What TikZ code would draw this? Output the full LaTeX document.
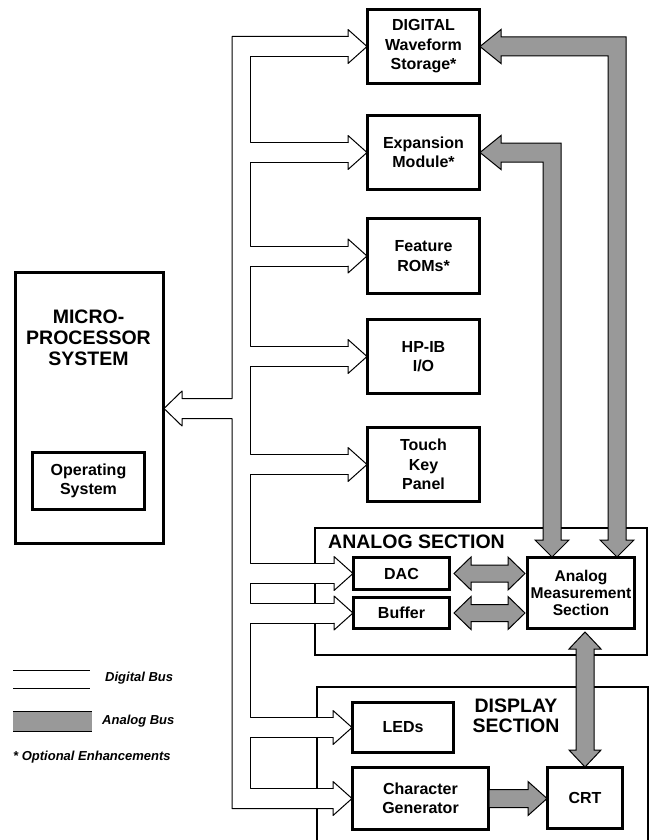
\documentclass[tikz,border=0pt]{standalone}
\usepackage{fontspec}
\setmainfont{Liberation Sans}
\usetikzlibrary{calc}
\begin{document}
\begin{tikzpicture}[x=1pt,y=-1pt,
 box/.style={draw,line width=2pt,inner sep=0pt,anchor=north west,align=center,font=\bfseries\fontsize{16}{19.5}\selectfont},
 frame/.style={line width=1.5pt},
 dbus/.style={line width=1pt,line join=round,line cap=round},
 abus/.style={fill=black!40,draw=black,line width=1pt,line join=miter},
 title/.style={font=\bfseries\fontsize{19.5}{20.5}\selectfont,inner sep=0pt,align=center},
 legend/.style={font=\bfseries\itshape\fontsize{13}{14}\selectfont,inner sep=0pt,anchor=west}]
\useasboundingbox (0,0) rectangle (653,840);
% ---------- macros ----------
\newcommand\dfill[2]{\fill[white] let \p1=(#1.west) in (#2pt,\y1+10pt) -- (\x1-19pt,\y1+10pt) -- (\x1-19pt,\y1+17pt) -- (\p1) -- (\x1-19pt,\y1-17pt) -- (\x1-19pt,\y1-10pt) -- (#2pt,\y1-10pt) -- cycle;}
\newcommand\dhead[1]{\draw[dbus] let \p1=(#1.west) in (\x1-19pt,\y1+10pt) -- (\x1-19pt,\y1+17pt) -- (\p1) -- (\x1-19pt,\y1-17pt) -- (\x1-19pt,\y1-10pt);}
\newcommand\inseg[2]{\draw[dbus] let \p1=(#1.west), \p2=(#2.west) in (\x1-19pt,\y1-10pt) -- (250pt,\y1-10pt) -- (250pt,\y2+10pt) -- (\x2-19pt,\y2+10pt);}
\newcommand\elbow[2]{\filldraw[abus] let \p1=(#1), \p2=(#2) in (\p1) -- (\x1+21pt,\y1+17pt) -- (\x1+21pt,\y1+9.5pt) -- (\x2+9pt,\y1+9.5pt) -- (\x2+9pt,\y2+17pt) -- (\x2+17pt,\y2+17pt) -- (\p2) -- (\x2-17pt,\y2+17pt) -- (\x2-9pt,\y2+17pt) -- (\x2-9pt,\y1-9.5pt) -- (\x1+21pt,\y1-9.5pt) -- (\x1+21pt,\y1-17pt) -- cycle;}
\newcommand\hdbl[2]{\filldraw[abus] let \p1=(#1), \p2=(#2) in (\p1) -- (\x1+17pt,\y1+16.5pt) -- (\x1+17pt,\y1+8.5pt) -- (\x2-17pt,\y1+8.5pt) -- (\x2-17pt,\y1+16.5pt) -- (\x2,\y1) -- (\x2-17pt,\y1-16.5pt) -- (\x2-17pt,\y1-8.5pt) -- (\x1+17pt,\y1-8.5pt) -- (\x1+17pt,\y1-16.5pt) -- cycle;}
\newcommand\vdbl[2]{\filldraw[abus] let \p1=(#1), \p2=(#2) in (\p1) -- (\x1+16pt,\y1-17pt) -- (\x1+9pt,\y1-17pt) -- (\x1+9pt,\y2+17pt) -- (\x1+16pt,\y2+17pt) -- (\x1,\y2) -- (\x1-16pt,\y2+17pt) -- (\x1-9pt,\y2+17pt) -- (\x1-9pt,\y1-17pt) -- (\x1-16pt,\y1-17pt) -- cycle;}
\newcommand\hsgl[2]{\filldraw[abus] let \p1=(#1), \p2=(#2) in (\x1,\y1+9pt) -- (\x2-19pt,\y1+9pt) -- (\x2-19pt,\y1+17pt) -- (\x2,\y1) -- (\x2-19pt,\y1-17pt) -- (\x2-19pt,\y1-9pt) -- (\x1,\y1-9pt) -- cycle;}
% ---------- section frames ----------
\draw[frame] (315,528) rectangle (647,655);
\draw[frame] (317,842) -- (317,687) -- (648,687) -- (648,842);
\node[title,anchor=west] (atitle) at (328,542) {ANALOG SECTION};
\node[title] (dtitle) at (516,716) {DISPLAY\\SECTION};
% ---------- boxes ----------
\path
 node[box,minimum width=111pt,minimum height=73pt] (dws) at (367,9) {DIGITAL\\Waveform\\Storage*}
 node[box,minimum width=111pt,minimum height=73pt] (exp) at (367,115) {Expansion\\Module*}
 node[box,minimum width=111pt,minimum height=74pt] (rom) at (367,218) {Feature\\ROMs*}
 node[box,minimum width=111pt,minimum height=73pt] (hpib) at (367,319) {HP-IB\\I/O}
 node[box,minimum width=111pt,minimum height=73pt] (touch) at (367,427) {Touch\\Key\\Panel}
 node[box,minimum width=147pt,minimum height=270pt] (micro) at (15,272) {}
 node[box,minimum width=111pt,minimum height=56pt] (os) at (32,452) {Operating\\System}
 node[box,minimum width=95pt,minimum height=31pt] (dac) at (353,557) {DAC}
 node[box,minimum width=95pt,minimum height=30pt] (buf) at (353,597) {Buffer}
 node[box,minimum width=106pt,minimum height=70pt,font=\bfseries\fontsize{15.6}{17}\selectfont] (ams) at (527,557) {Analog\\Measurement\\Section}
 node[box,minimum width=100pt,minimum height=49pt] (leds) at (352,702) {LEDs}
 node[box,minimum width=135pt,minimum height=61pt] (cg) at (352,767) {Character\\Generator}
 node[box,minimum width=74pt,minimum height=60pt] (crt) at (547,767) {CRT};
\node[title,font=\bfseries\fontsize{19.5}{21}\selectfont] (mtitle) at (88.5,338) {MICRO-\\PROCESSOR\\SYSTEM};
\coordinate (my) at (0,408.5);
\coordinate (mtip) at (micro.east |- my);
% ---------- digital bus ----------
\foreach \bx/\s in {dac/250,buf/250,leds/250,cg/232}{\dfill{\bx}{\s}}
\foreach \bx in {dws,exp,rom,hpib,touch,dac,buf,leds,cg}{\dhead{\bx}}
\inseg{dws}{exp}
\inseg{exp}{rom}
\inseg{rom}{hpib}
\inseg{hpib}{touch}
\inseg{touch}{dac}
\inseg{dac}{buf}
\inseg{buf}{leds}
\inseg{leds}{cg}
\draw[dbus] let \p1=(dws.west), \p2=(mtip), \p3=(cg.west) in
 (\x1-19pt,\y1+10pt) -- (232pt,\y1+10pt) -- (232pt,\y2+10pt) -- (\x2+18pt,\y2+10pt)
 -- (\x2+18pt,\y2+17.5pt) -- (\p2) -- (\x2+18pt,\y2-17.5pt) -- (\x2+18pt,\y2-10pt)
 -- (232pt,\y2-10pt) -- (232pt,\y3-10pt) -- (\x3-19pt,\y3-10pt);
% ---------- boxes drawn ----------
\foreach \bx in {dws,exp,rom,hpib,touch,micro,os,dac,buf,ams,leds,cg,crt}{\draw[line width=2pt] (\bx.north west) rectangle (\bx.south east);}
% ---------- analog bus ----------
\coordinate (t1) at ($(ams.north)+(36,0)$);
\coordinate (t2) at ($(ams.north)+(-29,0)$);
\elbow{dws.east}{t1}
\elbow{exp.east}{t2}
\coordinate (d1) at ($(dac.east)+(4,0)$);
\coordinate (d2) at ($(ams.west |- dac.east)+(-2,0)$);
\hdbl{d1}{d2}
\coordinate (b1) at ($(buf.east)+(4,0)$);
\coordinate (b2) at ($(ams.west |- buf.east)+(-2,0)$);
\hdbl{b1}{b2}
\coordinate (v1) at ($(crt.north |- ams.south)+(0,3)$);
\vdbl{v1}{crt.north}
\hsgl{cg.east}{crt.west}
% ---------- legend ----------
\draw[line width=1pt] (13,670) -- (90,670) (13,688) -- (90,688);
\fill[black!40] (13,711) rectangle (92,731);
\draw[line width=1pt] (13,711) -- (92,711) (13,731) -- (92,731);
\node[legend] (l1) at (105,678) {Digital Bus};
\node[legend] (l2) at (102,721) {Analog Bus};
\node[legend] (l3) at (13,757) {* Optional Enhancements};
\end{tikzpicture}
\end{document}
